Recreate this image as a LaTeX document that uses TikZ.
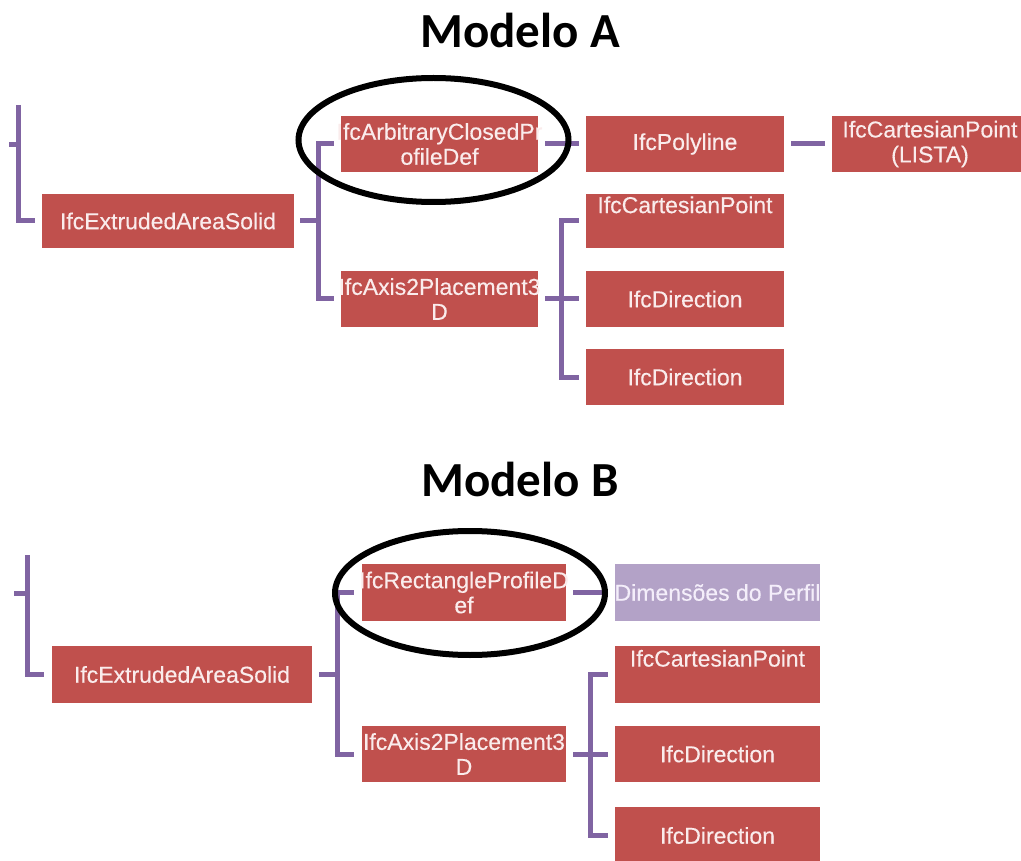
\documentclass[tikz,border=0pt]{standalone}
\usepackage{fontspec}
\setmainfont{Liberation Sans}
\newfontfamily\titlefont{Carlito}
\newfontfamily\labelfont[FakeBold=0.35]{Liberation Sans}
\usetikzlibrary{calc}

\definecolor{ifcred}{RGB}{192,80,77}
\definecolor{ifctext}{RGB}{250,236,236}
\definecolor{dimfill}{RGB}{179,162,199}
\definecolor{dimtext}{RGB}{244,238,250}
\definecolor{linkpurple}{RGB}{128,100,162}

% centred line of zero width, so long names may spill past the box
\newcommand\boxline[1]{\makebox[0pt][c]{#1}}

\tikzset{
  ifcbox/.style={rectangle, fill=ifcred, inner sep=0pt, text=ifctext,
    font=\labelfont\fontsize{23}{25}\selectfont, align=center},
  dimbox/.style={ifcbox, fill=dimfill, text=dimtext},
  link/.style={draw=linkpurple, line width=5pt},
  halo/.style={draw=black, line width=6pt},
  heading/.style={font=\titlefont\bfseries\fontsize{49}{55}\selectfont, anchor=base}
}

\begin{document}
\begin{tikzpicture}[x=1pt, y=-1pt]
\useasboundingbox (0,0) rectangle (1021,861);

% ---------- Modelo A ----------
\node[heading] (titA) at (520,48) {Modelo A};

\node[ifcbox, minimum width=252pt, minimum height=54pt] (extA) at (168,221) {\boxline{IfcExtrudedAreaSolid}};
\node[ifcbox, minimum width=197pt, minimum height=56pt] (arbA) at (439.5,144) {\boxline{IfcArbitraryClosedPr}\\\boxline{ofileDef}};
\node[ifcbox, minimum width=197pt, minimum height=56pt] (axA) at (439.5,299) {\boxline{IfcAxis2Placement3}\\\boxline{D}};
\node[ifcbox, minimum width=198pt, minimum height=56pt] (polyA) at (685,144) {\boxline{IfcPolyline}};
\node[ifcbox, minimum width=197pt, minimum height=56pt] (listA) at (930,144) {\boxline{IfcCartesianPoint}\\\boxline{(LISTA)}};
\node[ifcbox, minimum width=198pt, minimum height=54pt] (cpA) at (685,221) {\boxline{IfcCartesianPoint}\\\boxline{\strut}};
\node[ifcbox, minimum width=198pt, minimum height=56pt] (dirA1) at (685,299) {\boxline{IfcDirection}};
\node[ifcbox, minimum width=198pt, minimum height=56pt] (dirA2) at (685,377) {\boxline{IfcDirection}};

% bracket coming from the parent on the left
\coordinate (topA) at (18,105);
\coordinate (stubA) at (9,145);
\draw[link] (stubA) -- (stubA -| topA);
\draw[link, shorten >=7pt] (topA) |- (extA.west);

% IfcExtrudedAreaSolid -> its two attributes
\coordinate (jA) at (318,221);
\draw[link, shorten <=6pt] (extA.east) -- (jA);
\draw[link, shorten >=7pt] (jA) |- (arbA.west);
\draw[link, shorten >=7pt] (jA) |- (axA.west);

% profile -> polyline -> point list
\draw[link, shorten <=7pt, shorten >=7pt] (arbA.east) -- (polyA.west);
\draw[link, shorten <=7pt, shorten >=6pt] (polyA.east) -- (listA.west);

% placement -> point and directions
\coordinate (kA) at (561,299);
\draw[link, shorten <=7pt] (axA.east) -- (kA);
\draw[link, shorten >=7pt] (kA) |- (cpA.west);
\draw[link, shorten >=7pt] (kA) |- (dirA2.west);
\draw[link, shorten >=7pt] (kA) -- (dirA1.west);

\draw[halo] (433.5,140) ellipse [x radius=135, y radius=62];

% ---------- Modelo B ----------
\node[heading] (titB) at (520,496) {Modelo B};

\node[ifcbox, minimum width=260pt, minimum height=57pt] (extB) at (182,674.5) {\boxline{IfcExtrudedAreaSolid}};
\node[ifcbox, minimum width=204pt, minimum height=57pt] (recB) at (464,592.5) {\boxline{IfcRectangleProfileD}\\\boxline{ef}};
\node[ifcbox, minimum width=204pt, minimum height=56pt] (axB) at (464,754) {\boxline{IfcAxis2Placement3}\\\boxline{D}};
\node[dimbox, minimum width=205pt, minimum height=57pt] (dimB) at (717.5,592.5) {\boxline{Dimensões do Perfil}};
\node[ifcbox, minimum width=205pt, minimum height=57pt] (cpB) at (717.5,674.5) {\boxline{IfcCartesianPoint}\\\boxline{\strut}};
\node[ifcbox, minimum width=205pt, minimum height=56pt] (dirB1) at (717.5,754) {\boxline{IfcDirection}};
\node[ifcbox, minimum width=205pt, minimum height=57pt] (dirB2) at (717.5,835.5) {\boxline{IfcDirection}};

\coordinate (topB) at (27,555);
\coordinate (stubB) at (14,593);
\draw[link] (stubB) -- (stubB -| topB);
\draw[link, shorten >=8pt] (topB) |- (extB.west);

\coordinate (jB) at (337,674.5);
\draw[link, shorten <=7pt] (extB.east) -- (jB);
\draw[link, shorten >=8pt] (jB) |- (recB.west);
\draw[link, shorten >=8pt] (jB) |- (axB.west);

\draw[link, shorten <=7pt, shorten >=13pt] (recB.east) -- (dimB.west);

\coordinate (kB) at (590,754);
\draw[link, shorten <=7pt] (axB.east) -- (kB);
\draw[link, shorten >=7pt] (kB) |- (cpB.west);
\draw[link, shorten >=7pt] (kB) |- (dirB2.west);
\draw[link, shorten >=7pt] (kB) -- (dirB1.west);

\draw[halo] (470,593) ellipse [x radius=135, y radius=62];
\end{tikzpicture}
\end{document}
